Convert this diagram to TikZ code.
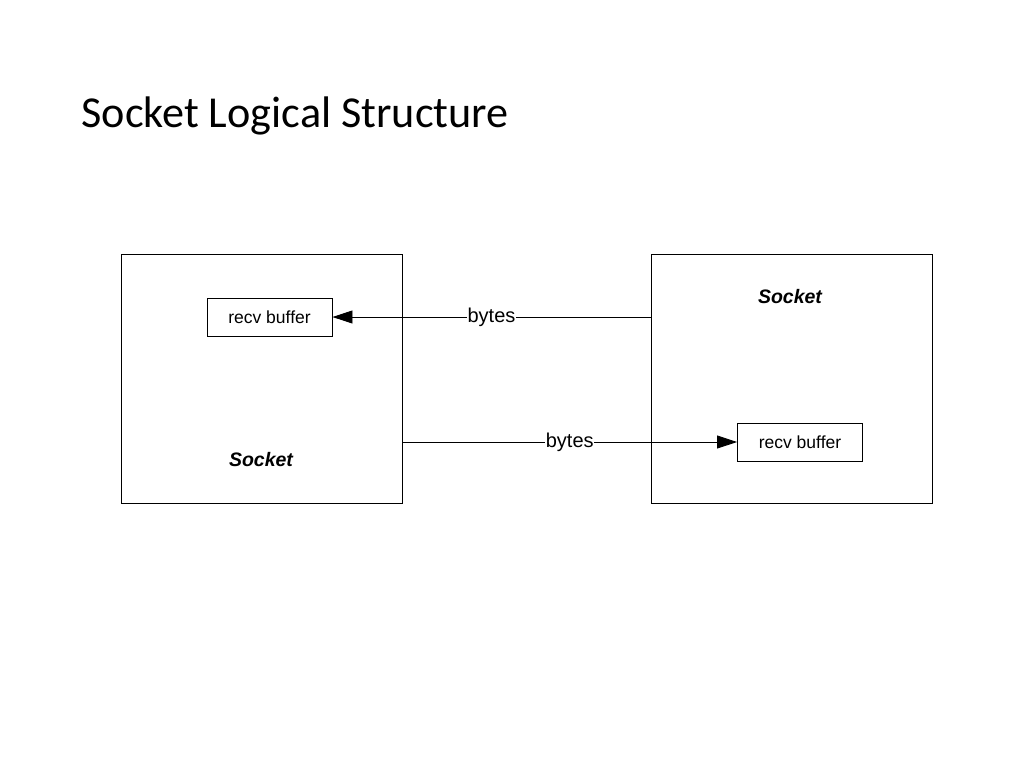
\documentclass[tikz,border=0pt]{standalone}
\usepackage{fontspec}
\setmainfont{Carlito}
\newfontfamily\arialfont{Liberation Sans}
\usetikzlibrary{arrows.meta}
\tikzset{
  sockbox/.style={draw,line width=0.9pt,minimum width=281pt,minimum height=249pt,inner sep=0pt},
  bufbox/.style={draw,line width=0.9pt,minimum width=125pt,minimum height=38pt,inner sep=0pt,font=\arialfont\fontsize{17.5}{19}\selectfont},
  socklabel/.style={anchor=base,inner sep=0pt,font=\arialfont\bfseries\itshape\fontsize{19.5}{22}\selectfont},
  byteslabel/.style={fill=white,inner sep=0.6pt,font=\arialfont\fontsize{20}{22}\selectfont}
}
\begin{document}
\begin{tikzpicture}[x=1pt,y=1pt,>={Triangle[length=20pt,width=13pt]},line width=0.9pt]
	\useasboundingbox[fill=white] (0,0) rectangle (1024,-768);
	\node[anchor=base west,inner sep=0pt,font=\fontsize{44.2}{50}\selectfont] (title) at (81,-127) {Socket Logical Structure};
	% the two sockets
	\node[sockbox] (sockA) at (261.5,-378.5) {};
	\node[sockbox] (sockB) at (791.5,-378.5) {};
	\node[socklabel] (nameA) at (261,-466) {Socket};
	\node[socklabel] (nameB) at (790,-303) {Socket};
	\node[bufbox] (bufA) at (269.5,-317) {recv buffer};
	\node[bufbox] (bufB) at (800,-442) {recv buffer};
	% byte streams
	\draw[->] (sockB.west |- bufA.east) -- node[byteslabel] (bytesA) {bytes} (bufA.east);
	\draw[->] (sockA.east |- bufB.west) -- node[byteslabel] (bytesB) {bytes} (bufB.west);
\end{tikzpicture}
\end{document}
